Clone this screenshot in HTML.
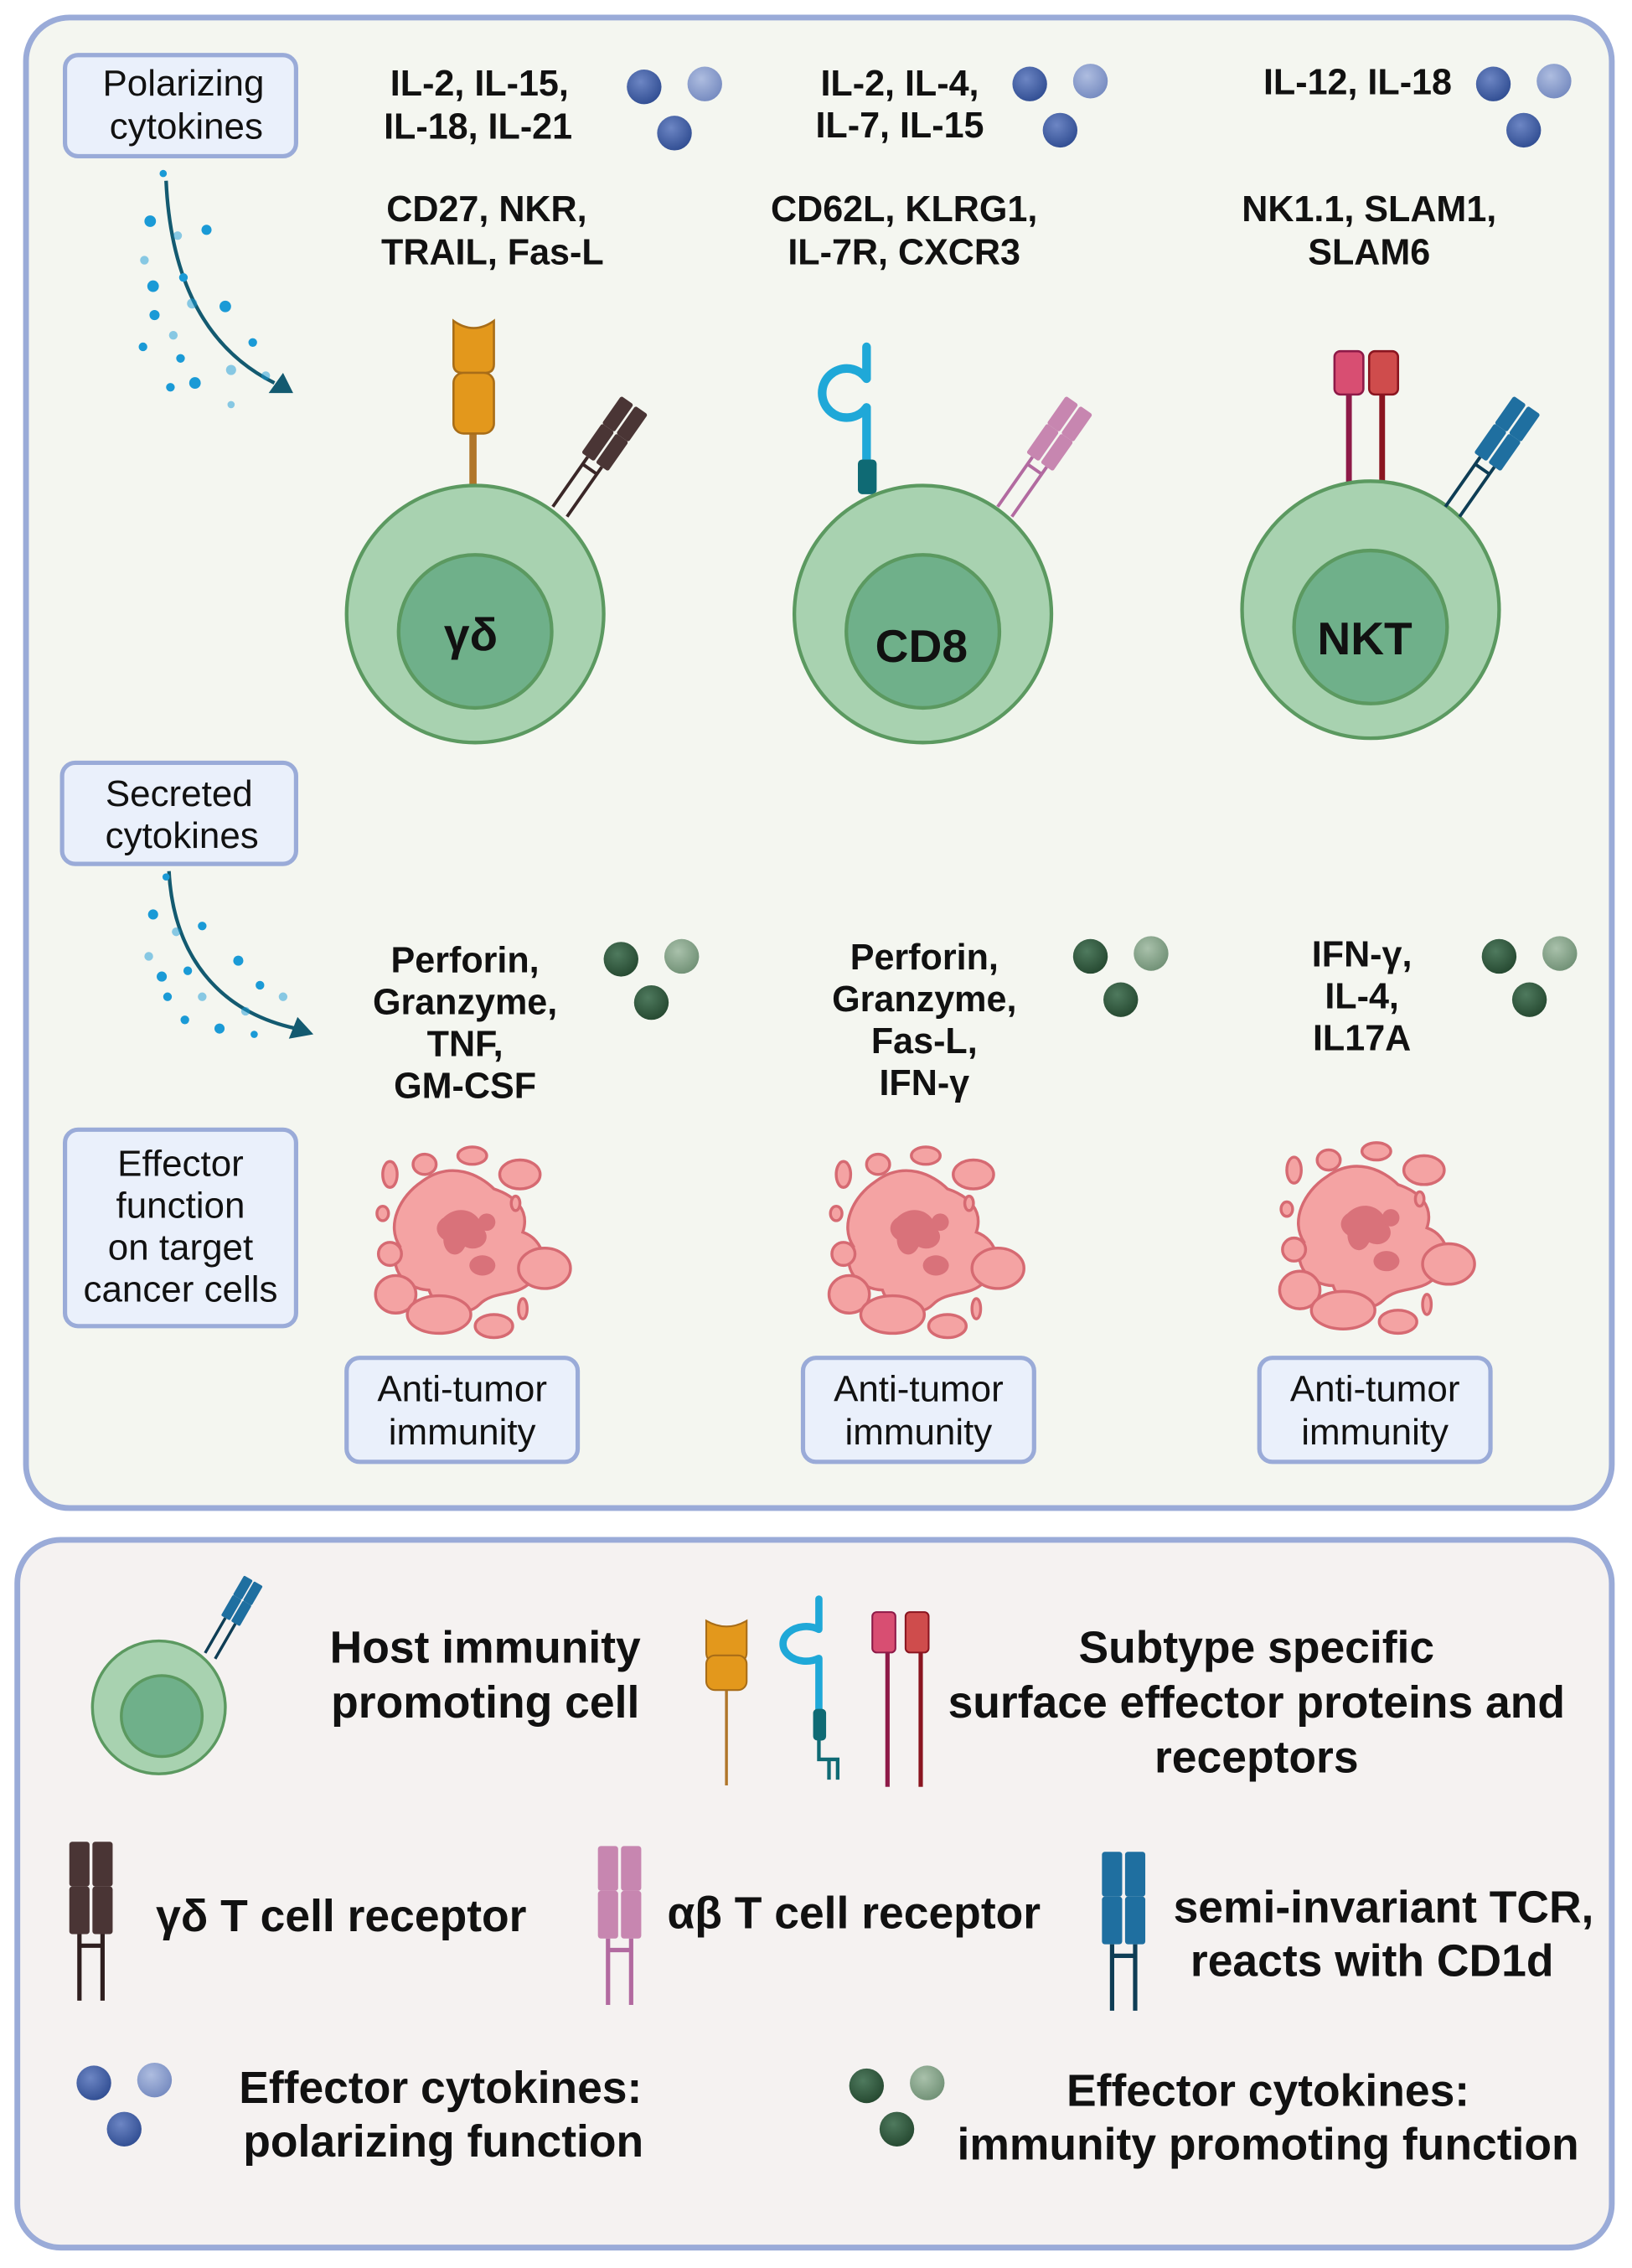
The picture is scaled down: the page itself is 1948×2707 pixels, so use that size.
<!DOCTYPE html>
<html><head><meta charset="utf-8"><style>
html,body{margin:0;padding:0;background:#fff}
svg{display:block}
text{font-family:"Liberation Sans",Arial,sans-serif}
.b{font-weight:bold;font-size:25px;fill:#111}
.n{font-size:25.5px;fill:#111}
.L{font-weight:bold;font-size:31px;fill:#111}
</style></head><body>
<svg width="1948" height="2707" viewBox="0 0 1130 1570" xmlns="http://www.w3.org/2000/svg">
<defs>
<radialGradient id="gb" cx="0.4" cy="0.35" r="0.7"><stop offset="0" stop-color="#6d86c4"/><stop offset="1" stop-color="#2f4c91"/></radialGradient>
<radialGradient id="gbl" cx="0.4" cy="0.35" r="0.7"><stop offset="0" stop-color="#aebde0"/><stop offset="1" stop-color="#7489bf"/></radialGradient>
<radialGradient id="gg" cx="0.4" cy="0.35" r="0.7"><stop offset="0" stop-color="#4f7a5e"/><stop offset="1" stop-color="#24472f"/></radialGradient>
<radialGradient id="ggl" cx="0.4" cy="0.35" r="0.7"><stop offset="0" stop-color="#a9c1ab"/><stop offset="1" stop-color="#6f8f74"/></radialGradient>
<g id="bdots"><circle cx="0" cy="2" r="12" fill="url(#gb)"/><circle cx="42" cy="0" r="12" fill="url(#gbl)"/><circle cx="21" cy="34" r="12" fill="url(#gb)"/></g>
<g id="gdots"><circle cx="0" cy="2" r="12" fill="url(#gg)"/><circle cx="42" cy="0" r="12" fill="url(#ggl)"/><circle cx="21" cy="32" r="12" fill="url(#gg)"/></g>
<g id="tumor" fill="#f4a3a3" stroke="#d66a72" stroke-width="2">
<path d="M-30,-40 C-10,-55 10,-45 20,-35 C35,-30 45,-20 40,-5 C55,0 60,20 45,30 C35,40 20,35 10,45 C0,55 -20,50 -25,35 C-40,35 -55,20 -45,5 C-55,-10 -45,-30 -30,-40Z"/>
<path d="M-15,-15 C-5,-25 10,-20 12,-8 C20,0 10,10 0,5 C-5,15 -15,10 -15,0 C-22,-5 -20,-12 -15,-15Z" fill="#d9727a" stroke="none"/>
<ellipse cx="12" cy="18" rx="9" ry="7" fill="#d9727a" stroke="none"/>
<circle cx="15" cy="-12" r="6" fill="#d9727a" stroke="none"/>
<ellipse cx="-52" cy="-45" rx="5" ry="9"/><ellipse cx="-28" cy="-52" rx="8" ry="7"/><ellipse cx="5" cy="-58" rx="10" ry="6"/>
<ellipse cx="38" cy="-45" rx="14" ry="10"/><ellipse cx="-57" cy="-18" rx="4" ry="5"/><ellipse cx="-52" cy="10" rx="8" ry="8"/>
<ellipse cx="-48" cy="38" rx="14" ry="13"/><ellipse cx="55" cy="20" rx="18" ry="14"/><ellipse cx="-18" cy="52" rx="22" ry="13"/>
<ellipse cx="20" cy="60" rx="13" ry="8"/><ellipse cx="40" cy="48" rx="3" ry="7"/><ellipse cx="35" cy="-25" rx="3" ry="5"/>
</g>
<g id="tcr"><rect x="-15" y="0" width="14" height="31" rx="2"/><rect x="-15" y="31" width="14" height="33" rx="2"/><rect x="1" y="0" width="14" height="31" rx="2"/><rect x="1" y="31" width="14" height="33" rx="2"/></g>
</defs>
<rect x="18" y="12" width="1098" height="1032" rx="30" fill="#f4f6f0" stroke="#9aabd8" stroke-width="4"/>
<rect x="12" y="1066" width="1104" height="490" rx="30" fill="#f5f2f1" stroke="#9aabd8" stroke-width="4"/>
<g fill="#eaf0fb" stroke="#9aabd8" stroke-width="3">
<rect x="45" y="38" width="160" height="70" rx="9"/><rect x="43" y="528" width="162" height="70" rx="9"/>
<rect x="45" y="782" width="160" height="136" rx="9"/><rect x="240" y="940" width="160" height="72" rx="9"/>
<rect x="556" y="940" width="160" height="72" rx="9"/><rect x="872" y="940" width="160" height="72" rx="9"/></g>
<g class="n" text-anchor="middle">
<text x="127" y="66">Polarizing</text><text x="129" y="96">cytokines</text>
<text x="124" y="558">Secreted</text><text x="126" y="587">cytokines</text>
<text x="125" y="814">Effector</text><text x="125" y="843">function</text><text x="125" y="872">on target</text><text x="125" y="901">cancer cells</text>
<text x="320" y="970">Anti-tumor</text><text x="320" y="1000">immunity</text>
<text x="636" y="970">Anti-tumor</text><text x="636" y="1000">immunity</text>
<text x="952" y="970">Anti-tumor</text><text x="952" y="1000">immunity</text></g>
<g fill="none" stroke="#135a70" stroke-width="2.5"><path d="M115,125 C118,190 140,240 190,265"/><path d="M117,603 C120,660 150,700 205,712"/></g>
<path d="M203,272 L186,272 L196,258Z" fill="#135a70"/><path d="M217,716 L200,719 L206,704Z" fill="#135a70"/>
<g fill="#1a9ad6">
<circle cx="113" cy="120" r="2.5"/><circle cx="104" cy="153" r="4"/><circle cx="143" cy="159" r="3.5"/><circle cx="123" cy="163" r="3" opacity=".5"/><circle cx="100" cy="180" r="3" opacity=".5"/><circle cx="106" cy="198" r="4"/><circle cx="127" cy="192" r="3"/><circle cx="133" cy="210" r="3.5" opacity=".5"/><circle cx="107" cy="218" r="3.5"/><circle cx="156" cy="212" r="4"/><circle cx="120" cy="232" r="3" opacity=".5"/><circle cx="99" cy="240" r="3"/><circle cx="125" cy="248" r="3"/><circle cx="175" cy="237" r="3"/><circle cx="160" cy="256" r="3.5" opacity=".5"/><circle cx="184" cy="260" r="3" opacity=".5"/><circle cx="118" cy="268" r="3"/><circle cx="135" cy="265" r="4"/><circle cx="160" cy="280" r="2.5" opacity=".5"/>
<circle cx="115" cy="607" r="2.5"/><circle cx="106" cy="633" r="3.5"/><circle cx="140" cy="641" r="3"/><circle cx="122" cy="645" r="3" opacity=".5"/><circle cx="103" cy="662" r="3" opacity=".5"/><circle cx="112" cy="676" r="3.5"/><circle cx="165" cy="665" r="3.5"/><circle cx="130" cy="672" r="3"/><circle cx="140" cy="690" r="3" opacity=".5"/><circle cx="116" cy="690" r="3"/><circle cx="180" cy="682" r="3"/><circle cx="128" cy="706" r="3"/><circle cx="152" cy="712" r="3.5"/><circle cx="170" cy="700" r="3" opacity=".5"/><circle cx="196" cy="690" r="3" opacity=".5"/><circle cx="176" cy="716" r="2.5"/></g>
<g class="b" text-anchor="middle">
<text x="332" y="66">IL-2, IL-15,</text><text x="331" y="96">IL-18, IL-21</text>
<text x="623" y="66">IL-2, IL-4,</text><text x="623" y="95">IL-7, IL-15</text>
<text x="940" y="65">IL-12, IL-18</text>
<text x="337" y="153">CD27, NKR,</text><text x="341" y="183">TRAIL, Fas-L</text>
<text x="626" y="153">CD62L, KLRG1,</text><text x="626" y="183">IL-7R, CXCR3</text>
<text x="948" y="153">NK1.1, SLAM1,</text><text x="948" y="183">SLAM6</text>
<text x="322" y="673">Perforin,</text><text x="322" y="702">Granzyme,</text><text x="322" y="731">TNF,</text><text x="322" y="760">GM-CSF</text>
<text x="640" y="671">Perforin,</text><text x="640" y="700">Granzyme,</text><text x="640" y="729">Fas-L,</text><text x="640" y="758">IFN-γ</text>
<text x="943" y="669">IFN-γ,</text><text x="943" y="698">IL-4,</text><text x="943" y="727">IL17A</text></g>
<use href="#bdots" x="446" y="58"/><use href="#bdots" x="713" y="56"/><use href="#bdots" x="1034" y="56"/>
<use href="#gdots" x="430" y="662"/><use href="#gdots" x="755" y="660"/><use href="#gdots" x="1038" y="660"/>
<rect x="325" y="298" width="5" height="40" fill="#b0762a"/>
<path d="M314,222 Q328,232 342,222 L342,252 Q342,258 336,258 L320,258 Q314,258 314,252Z" fill="#e3981c" stroke="#a86d18" stroke-width="1.5"/>
<rect x="314" y="258" width="28" height="42" rx="7" fill="#e3981c" stroke="#a86d18" stroke-width="1.5"/>
<path d="M600,240 V262 M600,282 V320" stroke="#1fa8d8" stroke-width="6" stroke-linecap="round" fill="none"/>
<path d="M600,262 A17,17 0 1 0 600,282" stroke="#1fa8d8" stroke-width="6" fill="none" stroke-linecap="round"/>
<rect x="594" y="318" width="13" height="24" rx="3" fill="#0f6a74"/>
<rect x="932" y="272" width="4" height="66" fill="#8e1a48"/><rect x="955" y="272" width="4" height="66" fill="#8a1520"/>
<rect x="924" y="243" width="20" height="30" rx="4" fill="#d84e72" stroke="#8e1a48" stroke-width="1.5"/><rect x="948" y="243" width="20" height="30" rx="4" fill="#cf4c4c" stroke="#8a1520" stroke-width="1.5"/>
<g stroke="#5b9960" stroke-width="2.5">
<circle cx="329" cy="425" r="89" fill="#a8d2b0"/><circle cx="329" cy="437" r="53" fill="#6fb08a"/>
<circle cx="639" cy="425" r="89" fill="#a8d2b0"/><circle cx="639" cy="437" r="53" fill="#6fb08a"/>
<circle cx="949" cy="422" r="89" fill="#a8d2b0"/><circle cx="949" cy="434" r="53" fill="#6fb08a"/></g>
<g font-weight="bold" font-size="32" fill="#111" text-anchor="middle"><text x="326" y="450">γδ</text><text x="638" y="458">CD8</text><text x="945" y="453">NKT</text></g>
<g transform="translate(392,348) rotate(35) scale(0.75)"><use href="#tcr" y="-110" fill="#4a3535"/><path d="M-8,-46 V10 M8,-46 V10 M-8,-38 H8" stroke="#3a2727" stroke-width="3"/></g>
<g transform="translate(700,348) rotate(35) scale(0.75)"><use href="#tcr" y="-110" fill="#c786b0"/><path d="M-8,-46 V10 M8,-46 V10 M-8,-38 H8" stroke="#b26aa0" stroke-width="3"/></g>
<g transform="translate(1010,348) rotate(35) scale(0.75)"><use href="#tcr" y="-110" fill="#1f6fa0"/><path d="M-8,-46 V10 M8,-46 V10 M-8,-38 H8" stroke="#0e3d55" stroke-width="3"/></g>
<use href="#tumor" x="322" y="858"/><use href="#tumor" x="636" y="858"/><use href="#tumor" x="948" y="855"/>
<g stroke="#5b9960" stroke-width="2"><circle cx="110" cy="1182" r="46" fill="#a8d2b0"/><circle cx="112" cy="1188" r="28" fill="#6fb08a"/></g>
<g transform="translate(148,1142) rotate(30) scale(0.5)"><use href="#tcr" y="-110" fill="#1f6fa0"/><path d="M-8,-46 V10 M8,-46 V10" stroke="#0e3d55" stroke-width="4"/></g>
<g class="L" text-anchor="middle"><text x="336" y="1151">Host immunity</text><text x="336" y="1189">promoting cell</text>
<text x="870" y="1151">Subtype specific</text><text x="870" y="1189">surface effector proteins and</text><text x="870" y="1227">receptors</text>
<text x="958" y="1331">semi-invariant TCR,</text><text x="950" y="1368">reacts with CD1d</text>
<text x="305" y="1456">Effector cytokines:</text><text x="307" y="1493">polarizing function</text>
<text x="878" y="1458">Effector cytokines:</text><text x="878" y="1495">immunity promoting function</text></g>
<g class="L"><text x="108" y="1337">γδ T cell receptor</text><text x="462" y="1335">αβ T cell receptor</text></g>
<rect x="502" y="1168" width="2" height="68" fill="#b0762a"/>
<path d="M489,1122 Q503,1130 517,1122 L517,1144 Q517,1150 511,1150 L495,1150 Q489,1150 489,1144Z" fill="#e3981c" stroke="#a86d18" stroke-width="1.2"/>
<rect x="489" y="1146" width="28" height="24" rx="6" fill="#e3981c" stroke="#a86d18" stroke-width="1.2"/>
<path d="M567,1107 V1128 M567,1148 V1185" stroke="#1fa8d8" stroke-width="5" stroke-linecap="round" fill="none"/>
<path d="M567,1128 A16,12 0 1 0 567,1148" stroke="#1fa8d8" stroke-width="5" fill="none"/>
<rect x="563" y="1183" width="9" height="22" rx="3" fill="#0f6a74"/>
<path d="M567,1205 V1218 H580 V1232 M574,1218 V1232" stroke="#0f6a74" stroke-width="2.5" fill="none"/>
<rect x="613" y="1143" width="3" height="94" fill="#8e1a48"/><rect x="636" y="1143" width="3" height="94" fill="#8a1520"/>
<rect x="604" y="1116" width="16" height="28" rx="3" fill="#d84e72" stroke="#8e1a48" stroke-width="1.2"/><rect x="627" y="1116" width="16" height="28" rx="3" fill="#cf4c4c" stroke="#8a1520" stroke-width="1.2"/>
<g transform="translate(63,1275)"><use href="#tcr" fill="#4a3535"/><path d="M-8,64 V110 M8,64 V110 M-8,72 H8" stroke="#2f1f1f" stroke-width="3"/></g>
<g transform="translate(429,1278)"><use href="#tcr" fill="#c786b0"/><path d="M-8,64 V110 M8,64 V110 M-8,72 H8" stroke="#b26aa0" stroke-width="3"/></g>
<g transform="translate(778,1282)"><use href="#tcr" fill="#1f6fa0"/><path d="M-8,64 V110 M8,64 V110 M-8,72 H8" stroke="#0e3d55" stroke-width="3"/></g>
<use href="#bdots" x="65" y="1440"/><use href="#gdots" x="600" y="1442"/>
</svg>
</body></html>
